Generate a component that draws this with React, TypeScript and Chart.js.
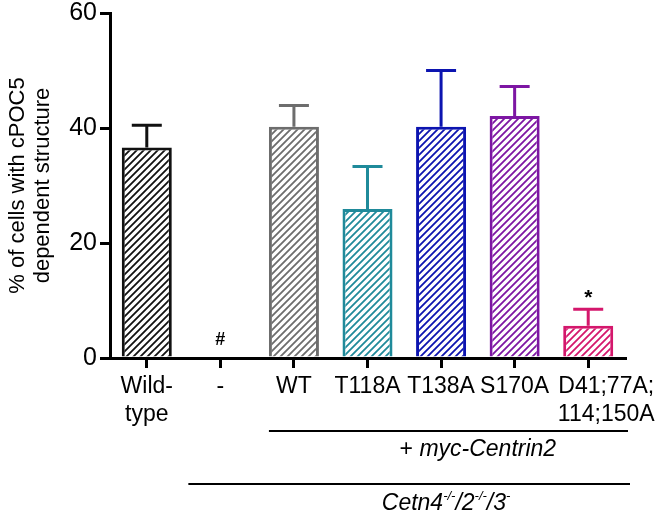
import React, { useEffect, useRef } from 'react';
import { Chart, registerables } from 'chart.js';

Chart.register(...registerables);

const categories: (string | string[])[] = [['Wild-', 'type'], '-', 'WT', 'T118A', 'T138A', 'S170A', ['D41;77A;', '114;150A']];
const means = [36.6, 0, 40.2, 25.9, 40.2, 42.1, 5.6];
const sem = [3.9, 0, 3.7, 7.4, 9.8, 5.1, 2.9];
const barColors = ['#111111', '#111111', '#6d6d6d', '#1f8a9a', '#0c14b0', '#7d16a3', '#d4176c'];
const marks = ['', '#', '', '', '', '', '*'];
const yTicks = [0, 20, 40, 60];
const yTitle = ['% of cells with cPOC5', 'dependent structure'];
const group1Prefix = '+ ';
const group1Italic = 'myc-Centrin2';
const group2Parts: [string, boolean][] = [['Cetn4', false], ['-/-', true], ['/2', false], ['-/-', true], ['/3', false], ['-', true]];

const FONT = '"Liberation Sans", Arial, Helvetica, sans-serif';

function hatch(color: string): CanvasPattern | string {
  const s = 7;
  const c = document.createElement('canvas');
  c.width = s;
  c.height = s;
  const g = c.getContext('2d');
  if (!g) return color;
  g.fillStyle = '#ffffff';
  g.fillRect(0, 0, s, s);
  g.strokeStyle = color;
  g.lineWidth = 1.8;
  g.beginPath();
  g.moveTo(-1, s + 1);
  g.lineTo(s + 1, -1);
  g.moveTo(-1, 1);
  g.lineTo(1, -1);
  g.moveTo(s - 1, s + 1);
  g.lineTo(s + 1, s - 1);
  g.stroke();
  return g.createPattern(c, 'repeat') || color;
}

const TICK_LEN = 10;
const XPAD = 5;
const XFONT = 23;
const XLH = 1.2;

const extras = {
  id: 'extras',
  afterDatasetsDraw(chart: any) {
    const { ctx, scales } = chart;
    const y = scales.y;
    const meta = chart.getDatasetMeta(0);
    ctx.save();
    meta.data.forEach((bar: any, i: number) => {
      if (!sem[i]) return;
      const yTop = y.getPixelForValue(means[i] + sem[i]);
      const yBase = y.getPixelForValue(means[i]);
      ctx.strokeStyle = barColors[i];
      ctx.lineWidth = 3;
      ctx.beginPath();
      ctx.moveTo(bar.x, yBase);
      ctx.lineTo(bar.x, yTop);
      ctx.moveTo(bar.x - 15, yTop);
      ctx.lineTo(bar.x + 15, yTop);
      ctx.stroke();
    });
    ctx.fillStyle = '#000';
    ctx.textAlign = 'center';
    ctx.textBaseline = 'middle';
    meta.data.forEach((bar: any, i: number) => {
      if (!marks[i]) return;
      const top = y.getPixelForValue(means[i] + sem[i]);
      if (marks[i] === '*') {
        ctx.font = `bold 21px ${FONT}`;
        ctx.fillText(marks[i], bar.x, top - 11);
      } else {
        ctx.font = `bold 18px ${FONT}`;
        ctx.fillText(marks[i], bar.x, top - 18);
      }
    });
    ctx.restore();
  },
  afterDraw(chart: any) {
    const { ctx, scales, chartArea } = chart;
    const x = scales.x;
    const bottom = chartArea.bottom;
    ctx.save();
    ctx.fillStyle = '#000';
    const last = categories.length - 1;
    const lastLines = Array.isArray(categories[last]) ? (categories[last] as string[]) : [categories[last] as string];
    ctx.font = `${XFONT}px ${FONT}`;
    ctx.textAlign = 'center';
    ctx.textBaseline = 'middle';
    const lh = XFONT * XLH;
    const lx = x.getPixelForValue(last) + 18;
    lastLines.forEach((t, k) => {
      ctx.fillText(t, lx, x.top + TICK_LEN + XPAD + lh / 2 + k * lh);
    });

    ctx.strokeStyle = '#000';
    ctx.lineWidth = 2;
    const l1y = bottom + 73;
    ctx.beginPath();
    ctx.moveTo(x.getPixelForValue(2) - 25, l1y);
    ctx.lineTo(chartArea.right + 3, l1y);
    ctx.stroke();
    ctx.textAlign = 'left';
    ctx.font = `23px ${FONT}`;
    const w1 = ctx.measureText(group1Prefix).width;
    ctx.font = `italic 23px ${FONT}`;
    const w2 = ctx.measureText(group1Italic).width;
    const c1 = (x.getPixelForValue(4) + x.getPixelForValue(5)) / 2;
    let sx = c1 - (w1 + w2) / 2;
    const t1y = bottom + 92;
    ctx.font = `23px ${FONT}`;
    ctx.fillText(group1Prefix, sx, t1y);
    ctx.font = `italic 23px ${FONT}`;
    ctx.fillText(group1Italic, sx + w1, t1y);

    const l2y = bottom + 126;
    ctx.beginPath();
    ctx.moveTo(x.getPixelForValue(1) - 32, l2y);
    ctx.lineTo(chartArea.right + 5, l2y);
    ctx.stroke();
    const t2y = bottom + 146;
    let total = 0;
    const widths = group2Parts.map(([t, sup]) => {
      ctx.font = sup ? `italic 13px ${FONT}` : `italic 23px ${FONT}`;
      const w = ctx.measureText(t).width;
      total += w;
      return w;
    });
    sx = x.getPixelForValue(4) + 5 - total / 2;
    group2Parts.forEach(([t, sup], k) => {
      ctx.font = sup ? `italic 13px ${FONT}` : `italic 23px ${FONT}`;
      ctx.fillText(t, sx, sup ? t2y - 8 : t2y);
      sx += widths[k];
    });
    ctx.restore();
  },
};

export default function App() {
  const ref = useRef<HTMLCanvasElement | null>(null);
  useEffect(() => {
    if (!ref.current) return;
    const chart = new Chart(ref.current, {
      type: 'bar',
      data: {
        labels: categories as any,
        datasets: [
          {
            data: means,
            backgroundColor: barColors.map((c) => hatch(c)) as any,
            borderColor: barColors,
            borderWidth: 3,
            borderSkipped: 'start',
            barPercentage: 0.68,
            categoryPercentage: 1,
          },
        ],
      },
      options: {
        animation: false,
        responsive: true,
        maintainAspectRatio: false,
        layout: { padding: { top: 13, right: 39, left: 0, bottom: 0 } },
        plugins: { legend: { display: false }, tooltip: { enabled: false } },
        scales: {
          x: {
            offset: true,
            ticks: {
              color: '#000',
              font: { family: FONT, size: XFONT, lineHeight: XLH },
              padding: XPAD,
              maxRotation: 0,
              autoSkip: false,
              callback: (_v: any, i: number) => (i === categories.length - 1 ? '' : categories[i]),
            },
            grid: {
              display: true,
              offset: false,
              drawOnChartArea: false,
              drawTicks: true,
              tickLength: TICK_LEN,
              tickWidth: 3,
              tickColor: '#000',
              lineWidth: 3,
              color: '#000',
            },
            border: { display: true, width: 3, color: '#000' },
            afterFit: (s: any) => {
              s.height = 161;
              s.paddingLeft = 0;
              s.paddingRight = 0;
            },
          },
          y: {
            min: 0,
            max: 60,
            afterBuildTicks: (s: any) => {
              s.ticks = yTicks.map((v) => ({ value: v }));
            },
            ticks: { color: '#000', font: { family: FONT, size: 25 }, padding: 3 },
            grid: {
              display: true,
              drawOnChartArea: false,
              drawTicks: true,
              tickLength: TICK_LEN,
              tickWidth: 3,
              tickColor: '#000',
              lineWidth: 3,
              color: '#000',
            },
            border: { display: true, width: 3, color: '#000' },
            title: {
              display: true,
              text: yTitle,
              color: '#000',
              font: { family: FONT, size: 22, lineHeight: 1.14 },
              padding: { top: 5, bottom: 0 },
            },
            afterFit: (s: any) => {
              s.width = 110;
              s.paddingTop = 0;
              s.paddingBottom = 0;
            },
          },
        },
      },
      plugins: [extras],
    });
    return () => chart.destroy();
  }, []);
  return (
    <div style={{ position: 'absolute', left: 0, top: 0, width: 664, height: 519, background: '#fff' }}>
      <canvas ref={ref} />
    </div>
  );
}
